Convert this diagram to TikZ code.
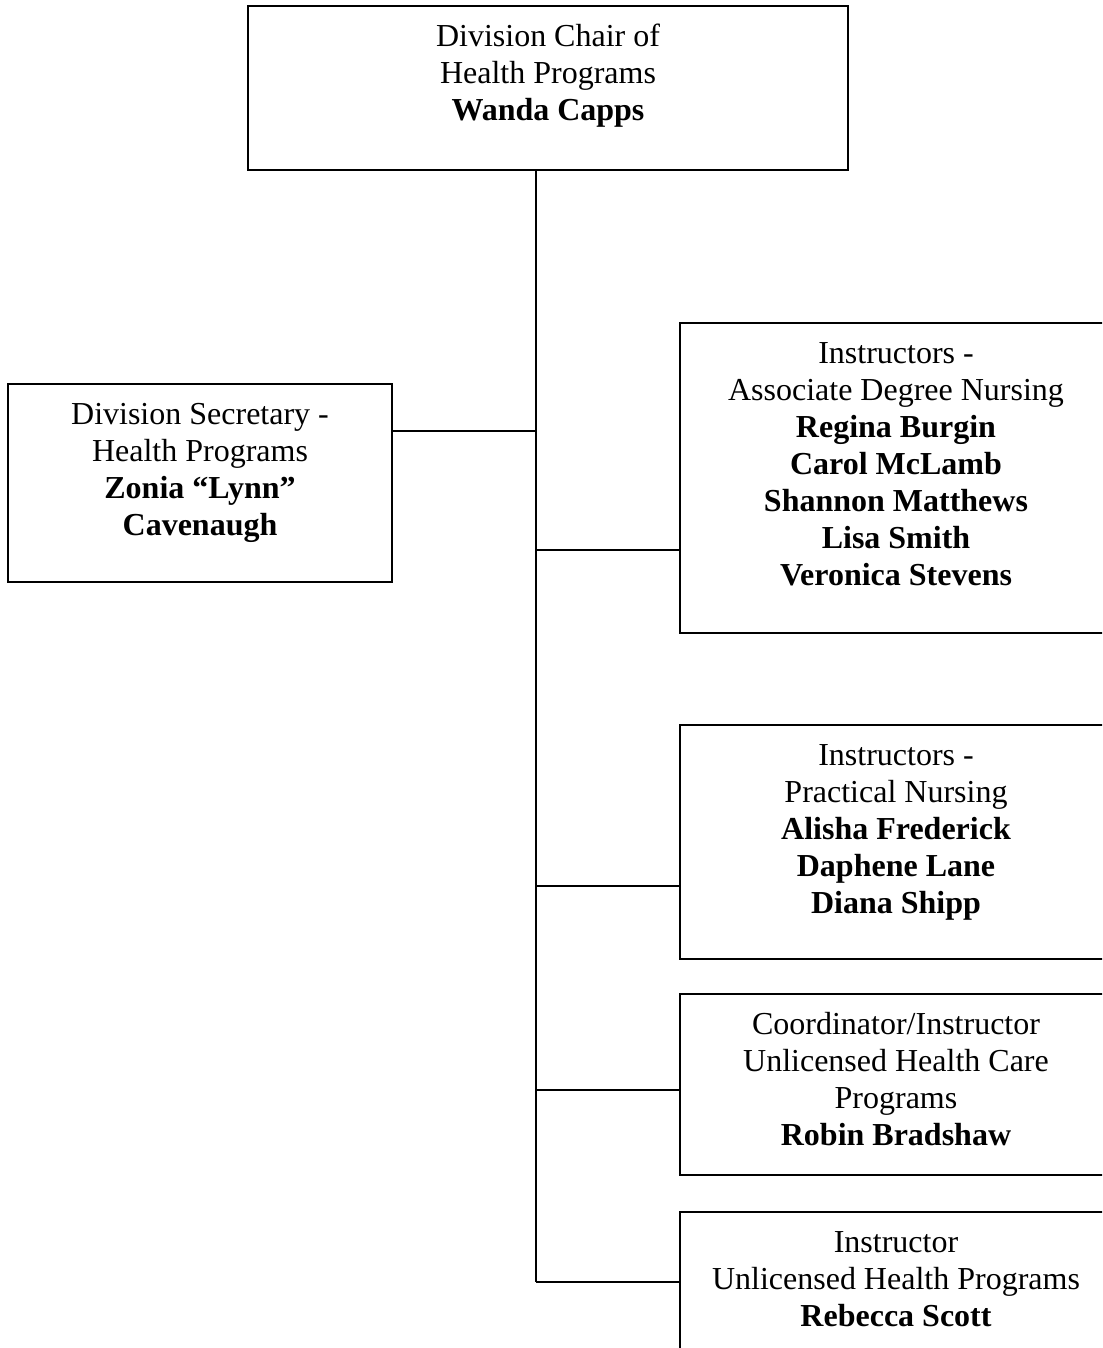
\documentclass[tikz,border=0pt]{standalone}
\usepackage{fontspec}
\setmainfont{Liberation Serif}
\usetikzlibrary{positioning}

% box text: fixed size, lines start near the top
\newcommand{\orgtext}[3]{\parbox[c][#2][t]{#1}{\centering\vspace*{7.3pt}\strut #3}}

\tikzset{
  orgbox/.style={draw, line width=1pt, inner sep=0pt, anchor=north west,
                 font=\fontsize{16pt}{18.5pt}\selectfont},
  orgline/.style={line width=1pt}
}

\begin{document}
\begin{tikzpicture}[x=0.5pt, y=-0.5pt]
  \useasboundingbox (0,0) rectangle (1102,1348);
  \clip (0,0) rectangle (1102,1348);

  \node[orgbox] (chair) at (247,5)
    {\orgtext{300pt}{82pt}{Division Chair of\\Health Programs\\\textbf{Wanda Capps}}};
  \node[orgbox] (sec) at (7,383)
    {\orgtext{192pt}{99pt}{Division Secretary -\\Health Programs\\\textbf{Zonia “Lynn”}\\\textbf{Cavenaugh}}};
  \node[orgbox] (adn) at (679,322)
    {\orgtext{216pt}{155pt}{Instructors -\\Associate Degree Nursing\\\textbf{Regina Burgin}\\\textbf{Carol McLamb}\\\textbf{Shannon Matthews}\\\textbf{Lisa Smith}\\\textbf{Veronica Stevens}}};
  \node[orgbox] (pn) at (679,724)
    {\orgtext{216pt}{117pt}{Instructors -\\Practical Nursing\\\textbf{Alisha Frederick}\\\textbf{Daphene Lane}\\\textbf{Diana Shipp}}};
  \node[orgbox] (coord) at (679,993)
    {\orgtext{216pt}{90.5pt}{Coordinator/Instructor\\Unlicensed Health Care\\Programs\\\textbf{Robin Bradshaw}}};
  \node[orgbox] (inst) at (679,1211)
    {\orgtext{216pt}{100pt}{Instructor\\Unlicensed Health Programs\\\textbf{Rebecca Scott}}};

  % vertical bus and branches
  \coordinate (bus) at (536,1282);
  \coordinate (jsec) at (536,431);
  \coordinate (jadn) at (536,550);
  \coordinate (jpn) at (536,886);
  \coordinate (jcoord) at (536,1090);
  \draw[orgline] (chair.south -| bus) -- (bus);
  \draw[orgline] (jsec) -- (jsec -| sec.east);
  \draw[orgline] (jadn) -- (jadn -| adn.west);
  \draw[orgline] (jpn) -- (jpn -| pn.west);
  \draw[orgline] (jcoord) -- (jcoord -| coord.west);
  \draw[orgline] (bus) -- (bus -| inst.west);
\end{tikzpicture}
\end{document}
